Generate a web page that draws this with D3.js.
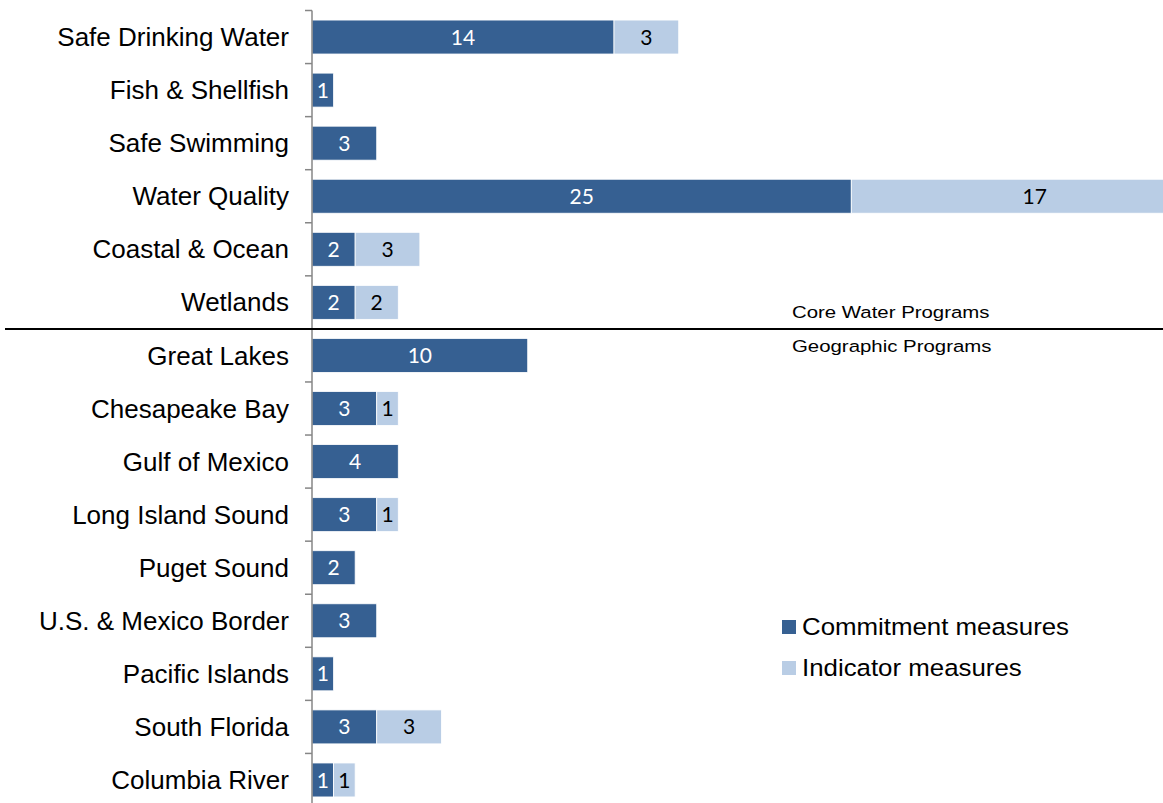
<!DOCTYPE html>
<html><head><meta charset="utf-8">
<script src="https://cdn.jsdelivr.net/npm/d3@7"></script>
<style>body{margin:0;background:#fff}svg{display:block}</style>
</head><body>
<script>
const categories = ["Safe Drinking Water","Fish & Shellfish","Safe Swimming","Water Quality","Coastal & Ocean","Wetlands","Great Lakes","Chesapeake Bay","Gulf of Mexico","Long Island Sound","Puget Sound","U.S. & Mexico Border","Pacific Islands","South Florida","Columbia River"];
const commitment = [14,1,3,25,2,2,10,3,4,3,2,3,1,3,1];
const indicator  = [3,0,0,17,3,2,0,1,0,1,0,0,0,3,1];
const seriesNames = ["Commitment measures","Indicator measures"];
const groupLabels = ["Core Water Programs","Geographic Programs"];
const colors = ["#366092","#b9cde5"];

const W = 1163, H = 803;
const svg = d3.select("body").append("svg").attr("width", W).attr("height", H);

const x0 = 312;
const x = d3.scaleLinear().domain([0, 14]).range([x0, 614]);
const y = d3.scaleBand().domain(categories).range([10.5, 806.5]).paddingInner(0.36).paddingOuter(0.18);

const data = categories.map((c, i) => ({cat: c, commitment: commitment[i], indicator: indicator[i]}));
const stack = d3.stack().keys(["commitment","indicator"])(data);

const g = svg.append("g");
stack.forEach((layer, li) => {
  const lg = g.append("g").attr("fill", colors[li]);
  layer.forEach(d => {
    if (d[1] - d[0] <= 0) return;
    lg.append("rect")
      .attr("x", x(d[0])).attr("y", y(d.data.cat))
      .attr("width", x(d[1]) - x(d[0])).attr("height", y.bandwidth())
      .attr("stroke", "#ffffff").attr("stroke-width", 0.8);
    g.append("text")
      .attr("x", (x(d[0]) + x(d[1])) / 2)
      .attr("y", y(d.data.cat) + y.bandwidth() / 2)
      .attr("dy", "0.36em")
      .attr("text-anchor", "middle")
      .attr("font-family", "Lato, 'Open Sans', sans-serif")
      .attr("font-size", 21)
      .attr("fill", li === 0 ? "#ffffff" : "#000000")
      .text(d[1] - d[0]);
  });
});

// axis
const step = y.step();
const axis = svg.append("g");
axis.append("line").attr("x1", x0).attr("x2", x0).attr("y1", 10.5).attr("y2", 806.5)
  .attr("stroke", "#868686").attr("stroke-width", 1.5);
d3.range(categories.length + 1).forEach(i => {
  const yy = 10.5 + i * step;
  axis.append("line").attr("x1", x0 - 7).attr("x2", x0).attr("y1", yy).attr("y2", yy)
    .attr("stroke", "#868686").attr("stroke-width", 1.5);
});
categories.forEach(c => {
  axis.append("text")
    .attr("x", 289).attr("y", y(c) + y.bandwidth() / 2).attr("dy", "0.35em")
    .attr("text-anchor", "end")
    .attr("font-family", "'Liberation Sans', Arial, sans-serif")
    .attr("font-size", 26).attr("fill", "#000")
    .text(c);
});

// divider
const divY = 10.5 + 6 * step;
svg.append("line").attr("x1", 5).attr("x2", W).attr("y1", divY).attr("y2", divY)
  .attr("stroke", "#000").attr("stroke-width", 2);
[[groupLabels[0], -17], [groupLabels[1], 17]].forEach(([t, off]) => {
  svg.append("text")
    .attr("transform", `translate(792,${divY + off}) scale(1.2,1)`)
    .attr("dy", "0.35em")
    .attr("font-family", "'Liberation Sans', Arial, sans-serif").attr("font-size", 17).text(t);
});

// legend
seriesNames.forEach((s, i) => {
  const ly = 627 + i * 41;
  svg.append("rect").attr("x", 782).attr("y", ly - 7).attr("width", 14).attr("height", 14).attr("fill", colors[i]);
  svg.append("text")
    .attr("transform", `translate(802,${ly}) scale(1.1,1)`)
    .attr("dy", "0.35em")
    .attr("font-family", "'Liberation Sans', Arial, sans-serif").attr("font-size", 23.5).text(s);
});
</script>
</body></html>
